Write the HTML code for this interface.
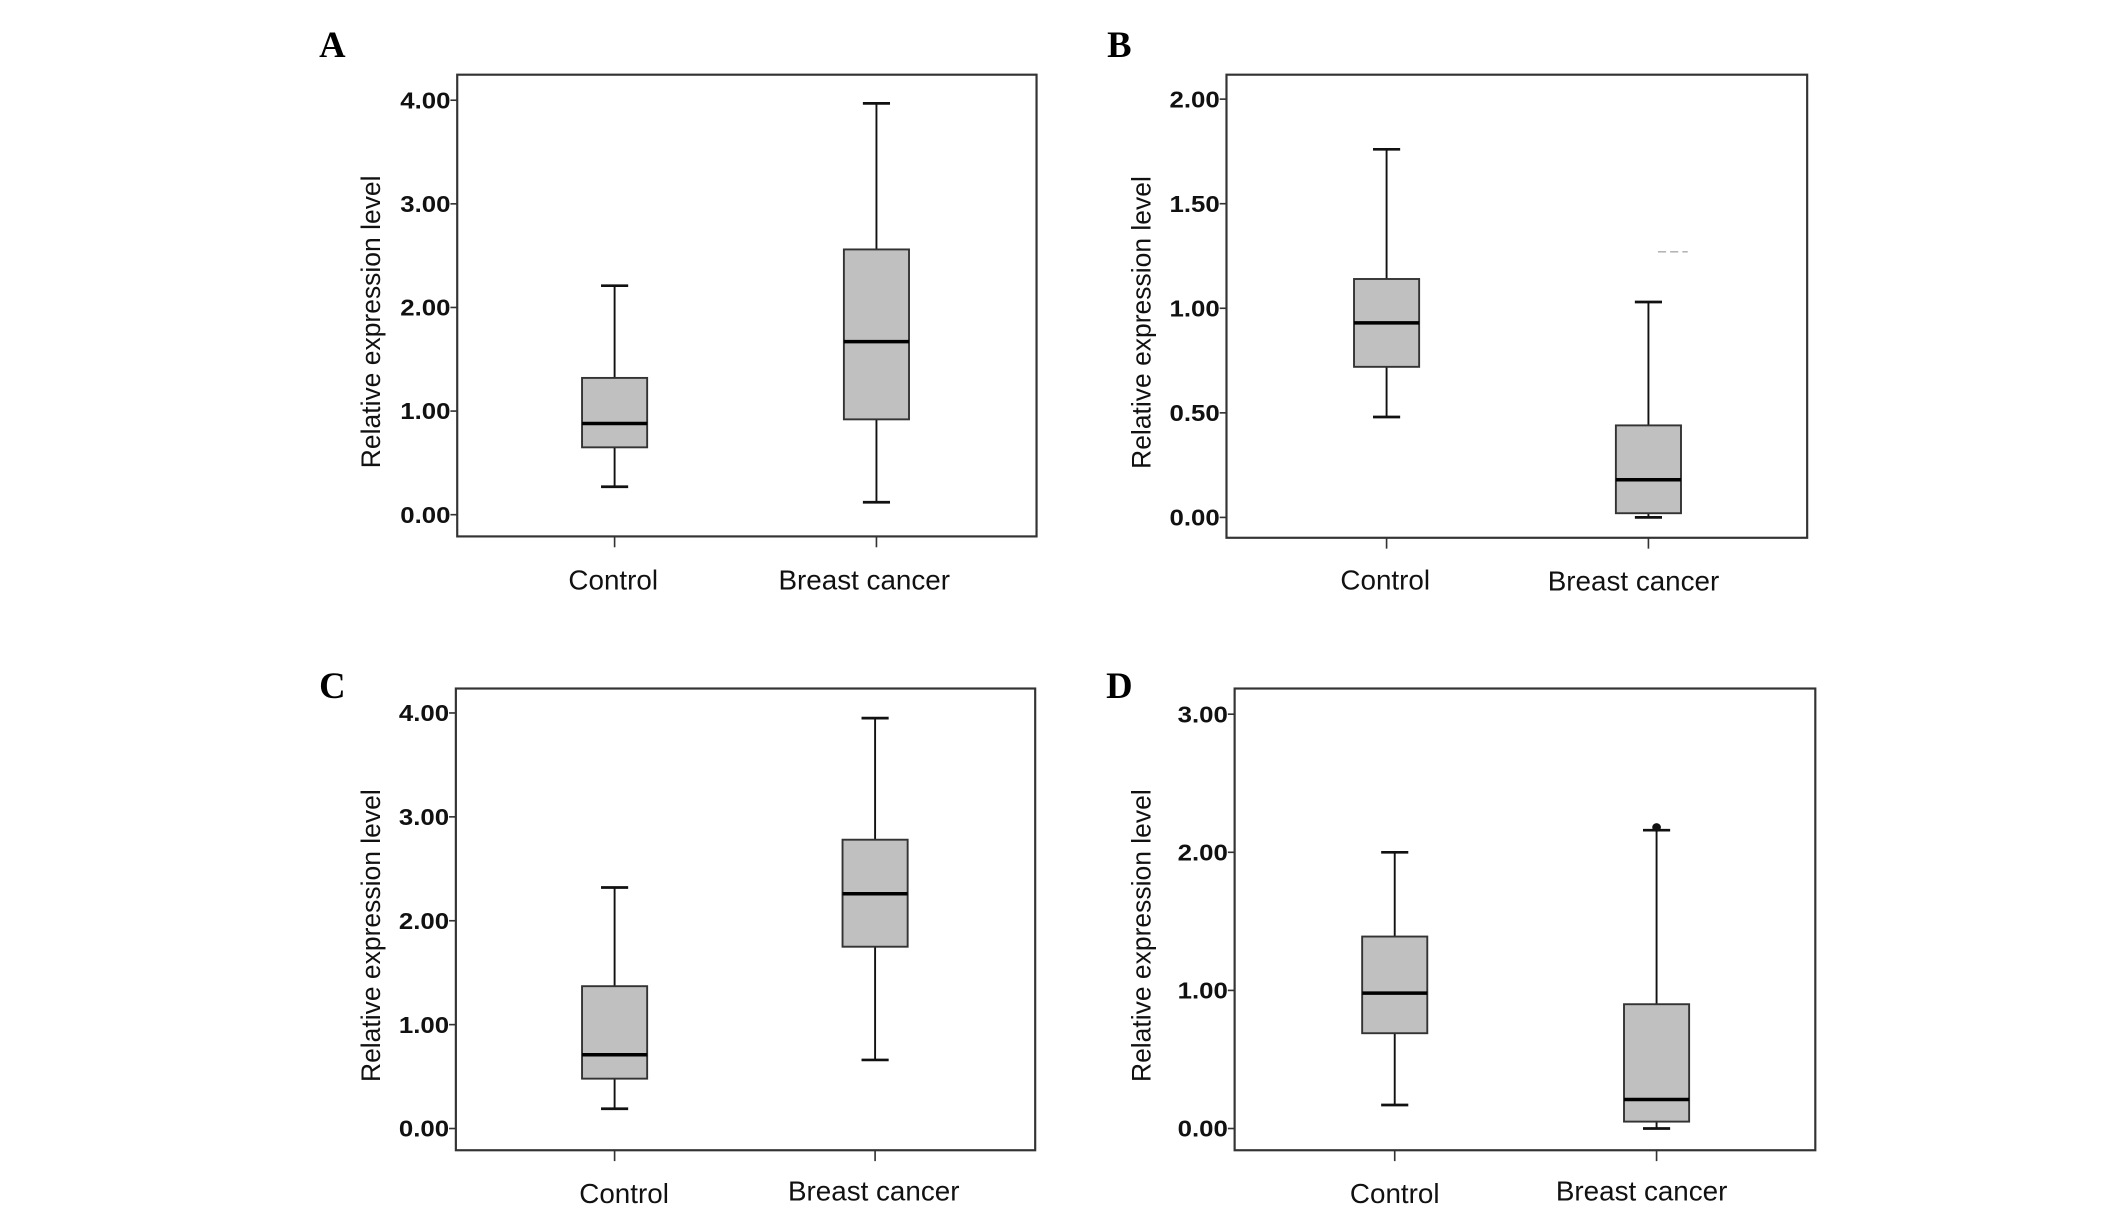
<!DOCTYPE html>
<html><head><meta charset="utf-8"><style>
html,body{margin:0;padding:0;background:#fff;}
svg{display:block;}
</style></head><body>
<svg id="fig" width="2126" height="1210" viewBox="0 0 1567 891" preserveAspectRatio="none" xmlns="http://www.w3.org/2000/svg"></svg>
<script>
const categories = ["Control", "Breast cancer"];
const panelLetters = ["A", "B", "C", "D"];
const tickA = [0, 1, 2, 3, 4];
const tickB = [0, 0.5, 1, 1.5, 2];
const tickC = [0, 1, 2, 3, 4];
const tickD = [0, 1, 2, 3];
// [whiskerLow, q1, median, q3, whiskerHigh]
const controlA = [0.27, 0.65, 0.88, 1.32, 2.21];
const cancerA = [0.12, 0.92, 1.67, 2.56, 3.97];
const controlB = [0.48, 0.72, 0.93, 1.14, 1.76];
const cancerB = [0.00, 0.02, 0.18, 0.44, 1.03];
const controlC = [0.19, 0.48, 0.71, 1.37, 2.32];
const cancerC = [0.66, 1.75, 2.26, 2.78, 3.95];
const controlD = [0.17, 0.69, 0.98, 1.39, 2.00];
const cancerD = [0.00, 0.05, 0.21, 0.90, 2.16];
const outlierB = [1.27];
const outlierD = [2.18];

const NS = "http://www.w3.org/2000/svg";
const svg = document.getElementById("fig");
const SANS = '"Liberation Sans", Arial, sans-serif';
function mk(tag, attrs, parent, text) {
  const e = document.createElementNS(NS, tag);
  for (const k in attrs) e.setAttribute(k, attrs[k]);
  if (text !== undefined) e.textContent = text;
  (parent || svg).appendChild(e);
  return e;
}

const layouts = [
  {fx:337, fw:427, fy:55, fh:340, y0:379, unitPx:76.3, cx:[453,646], lab:[[452,434],[637,434]], lx:245, ly:42, titleX:281},
  {fx:904, fw:428, fy:55, fh:341, y0:381, unitPx:154, cx:[1022,1215], lab:[[1021,434],[1204,435]], lx:825, ly:42, titleX:849},
  {fx:336, fw:427, fy:507, fh:340, y0:831, unitPx:76.5, cx:[453,645], lab:[[460,886],[644,884]], lx:245, ly:514, titleX:281},
  {fx:910, fw:428, fy:507, fh:340, y0:831, unitPx:101.7, cx:[1028,1221], lab:[[1028,886],[1210,884]], lx:825, ly:514, titleX:849}
];
const ticks = [tickA, tickB, tickC, tickD];
const series = [[controlA, cancerA],[controlB, cancerB],[controlC, cancerC],[controlD, cancerD]];
const outliers = [[], outlierB, [], outlierD];

layouts.forEach((L, p) => {
  const g = mk("g", {});
  
  
  const y = v => L.y0 - v * L.unitPx;

  const letter = mk("text", {x:L.lx, y:L.ly, style:'font-family:"Liberation Serif", serif;font-weight:bold;font-size:27px', "text-anchor":"middle"}, g, panelLetters[p]);
  
  

  const frame = mk("rect", {x:L.fx, y:L.fy, width:L.fw, height:L.fh, fill:"none", stroke:"#333", "stroke-width":"1.6"}, g);
  
  

  ticks[p].forEach(v => {
    mk("line", {x1:L.fx-5, x2:L.fx, y1:y(v), y2:y(v), stroke:"#333", "stroke-width":"1.2"}, g);
    const t = mk("text", {x:L.fx-5, y:y(v)+6, style:'font-family:' + SANS + ';font-size:17px;font-weight:bold', "text-anchor":"end", fill:"#111", textLength:"37", lengthAdjust:"spacingAndGlyphs"}, g, v.toFixed(2));
    
    
  });

  const midY = (L.fy + L.fh / 2);
  const title = mk("text", {x:0, y:0, style:'font-family:' + SANS + ';font-size:19.5px', "text-anchor":"middle", fill:"#111", transform:"translate(" + (L.titleX - 1) + "," + (midY + 12) + ") rotate(-90)"}, g, "Relative expression level");
  
  

  categories.forEach((c, i) => {
    const cx = L.cx[i];
    mk("line", {x1:cx, x2:cx, y1:L.fy+L.fh, y2:L.fy+L.fh+8, stroke:"#333", "stroke-width":"1.2"}, g);
    const t = mk("text", {x:L.lab[i][0], y:L.lab[i][1], style:'font-family:' + SANS + ';font-size:20.5px', "text-anchor":"middle", fill:"#111"}, g, c);
    
    

    const s = series[p][i];
    const bg = mk("g", {}, g);
    
    
    const hw = 24, cap = 10;
    mk("line", {x1:cx, x2:cx, y1:y(s[4]), y2:y(s[3]), stroke:"#111", "stroke-width":"1.4"}, bg);
    mk("line", {x1:cx, x2:cx, y1:y(s[1]), y2:y(s[0]), stroke:"#111", "stroke-width":"1.4"}, bg);
    mk("line", {x1:cx-cap, x2:cx+cap, y1:y(s[4]), y2:y(s[4]), stroke:"#111", "stroke-width":"2"}, bg);
    mk("line", {x1:cx-cap, x2:cx+cap, y1:y(s[0]), y2:y(s[0]), stroke:"#111", "stroke-width":"2"}, bg);
    mk("rect", {x:cx-hw, y:y(s[3]), width:hw*2, height:y(s[1])-y(s[3]), fill:"#c0c0c0", stroke:"#333", "stroke-width":"1.4"}, bg);
    mk("line", {x1:cx-hw, x2:cx+hw, y1:y(s[2]), y2:y(s[2]), stroke:"#000", "stroke-width":"2.6"}, bg);
  });

  outliers[p].forEach(v => {
    const cx = L.cx[1];
    let o;
    if (p === 1) {
      o = mk("line", {x1:cx+7, x2:cx+29, y1:y(v), y2:y(v), stroke:"#aaa", "stroke-width":"1", "stroke-dasharray":"6 3"}, g);
    } else {
      o = mk("circle", {cx:cx, cy:y(v), r:3.2, fill:"#111"}, g);
    }
    
    
  });
});
</script>
</body></html>
